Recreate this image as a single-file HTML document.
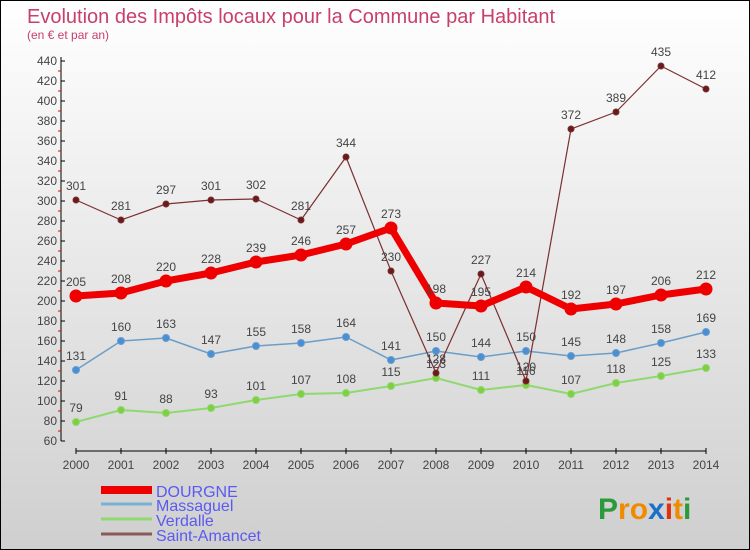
<!DOCTYPE html>
<html><head><meta charset="utf-8"><style>
body{margin:0}
#c{position:relative;width:748px;height:548px;border:1px solid #000;background:linear-gradient(#fff,#cfcfcf);font-family:"Liberation Sans",sans-serif;overflow:hidden}
</style></head><body>
<div id="c">
<svg id="s" width="748" height="548">
<text x="26" y="22" font-size="20" fill="#c8406a">Evolution des Impôts locaux pour la Commune par Habitant</text>
<text x="26" y="38" font-size="12" fill="#c8406a">(en € et par an)</text>
<g id="g"></g>
<text x="597" y="518" font-size="30" font-weight="bold"><tspan fill="#2a9a3a">P</tspan><tspan fill="#f08a00">ro</tspan><tspan fill="#1a70c8">x</tspan><tspan fill="#e03010">i</tspan><tspan fill="#f08a00">t</tspan><tspan fill="#2a9a3a">i</tspan></text>
</svg>
</div>
<script>
const years=[2000,2001,2002,2003,2004,2005,2006,2007,2008,2009,2010,2011,2012,2013,2014];
const dourgne=[205,208,220,228,239,246,257,273,198,195,214,192,197,206,212];
const massaguel=[131,160,163,147,155,158,164,141,150,144,150,145,148,158,169];
const verdalle=[79,91,88,93,101,107,108,115,123,111,116,107,118,125,133];
const amancet=[301,281,297,301,302,281,344,230,128,227,120,372,389,435,412];
const yTicks=[60,80,100,120,140,160,180,200,220,240,260,280,300,320,340,360,380,400,420,440];
const NS="http://www.w3.org/2000/svg";
const g=document.getElementById('g');
const X=i=>75+i*45, Y=v=>60+(440-v);
function el(t,a,p){const e=document.createElementNS(NS,t);for(const k in a)e.setAttribute(k,a[k]);(p||g).appendChild(e);return e;}
function tx(x,y,s,a,col,sz){const e=el('text',{x:x,y:y,'text-anchor':a,fill:col||'#444','font-size':sz||12});e.textContent=s;return e;}
let ax=el('line',{x1:60,y1:56,x2:60,y2:440,stroke:'#000'});
let bx=el('line',{x1:75,y1:450,x2:705,y2:450,stroke:'#000'});
yTicks.forEach(v=>{el('line',{x1:60,y1:Y(v),x2:64,y2:Y(v),stroke:'#000'});
 if(v<440)el('line',{x1:57,y1:Y(v+10),x2:60,y2:Y(v+10),stroke:'#e00'});
 const t=tx(56,Y(v)+4,v,'end');});
years.forEach((y,i)=>{el('line',{x1:X(i),y1:447,x2:X(i),y2:453,stroke:'#000'});
 const t=tx(X(i),468,y,'middle');});
function series(d,col,w,r,dot,name){
 const pts=d.map((v,i)=>X(i)+','+Y(v)).join(' ');
 const l=el('polyline',{points:pts,fill:'none',stroke:col,'stroke-width':w,'stroke-linejoin':'round'});
 
 d.forEach((v,i)=>{const c=el('circle',{cx:X(i),cy:Y(v),r:r,fill:dot,stroke:col,'stroke-width':1});
  
  const t=tx(X(i),Y(v)-10,v,'middle');});
}
series(verdalle,'#90d870',2,3.5,'#7ed040','verdalle');
series(massaguel,'#6a9ec8',1.5,3.5,'#4a8ed8','massaguel');
series(amancet,'#7a3030',1.2,3,'#6a1a1a','saint-amancet');
series(dourgne,'#ee0000',7,6,'#ee0000','dourgne');
const leg=[['DOURGNE','#ee0000',8,495],['Massaguel','#7ab0d8',3,509],['Verdalle','#90d870',3,524],['Saint-Amancet','#8a5a5a',3,539]];
leg.forEach(l=>{const r=el('line',{x1:100,y1:l[3]-6,x2:151,y2:l[3]-6,stroke:l[1],'stroke-width':l[2]});
 
 const t=tx(155,l[3]+1,l[0],'start','#5a5af0',16);});
</script>
</body></html>
